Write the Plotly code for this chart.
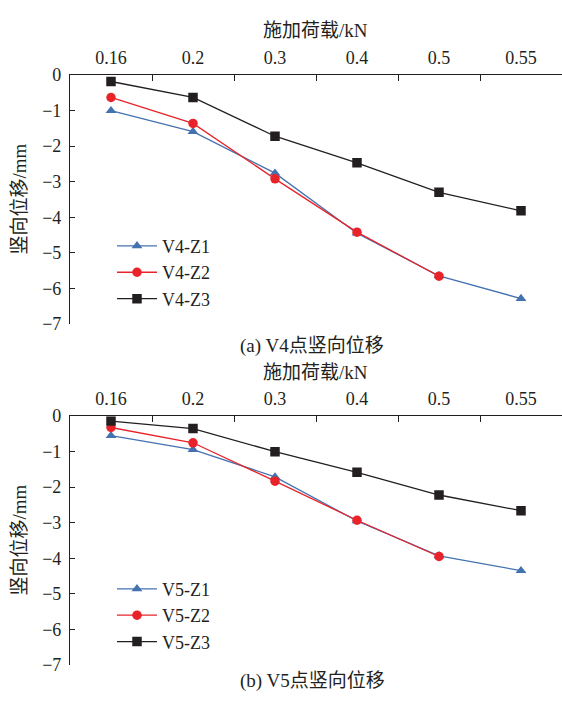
import plotly.graph_objects as go

# Load steps (kN), shown as evenly spaced categories on the top axis
loads = ["0.16", "0.2", "0.3", "0.4", "0.5", "0.55"]

# Vertical displacement (mm) at point V4
v4_z1 = [-1.00, -1.59, -2.76, -4.45, -5.65, -6.29]
v4_z2 = [-0.63, -1.36, -2.92, -4.42, -5.66]
v4_z3 = [-0.18, -0.63, -1.72, -2.47, -3.30, -3.82]

# Vertical displacement (mm) at point V5
v5_z1 = [-0.55, -0.94, -1.71, -2.95, -3.93, -4.35]
v5_z2 = [-0.32, -0.75, -1.83, -2.93, -3.95]
v5_z3 = [-0.14, -0.35, -1.00, -1.58, -2.22, -2.66]

y_ticks = [0, -1, -2, -3, -4, -5, -6, -7]

FONT = "Liberation Serif, Noto Sans CJK SC"
BLUE = "#4472B0"
RED = "#E8242A"
BLACK = "#231F20"

W, H = 562, 704
styles = [
    (BLUE, "triangle-up", 9.5),
    (RED, "circle", 9.5),
    (BLACK, "square", 9.5),
]

fig = go.Figure()

panels = [
    ("V4", [v4_z1, v4_z2, v4_z3], "x", "y", "legend"),
    ("V5", [v5_z1, v5_z2, v5_z3], "x2", "y2", "legend2"),
]
for point, series, xa, ya, lg in panels:
    for i, (vals, (col, sym, sz)) in enumerate(zip(series, styles)):
        fig.add_trace(go.Scatter(
            x=loads[:len(vals)], y=vals,
            mode="lines+markers",
            name=f"{point}-Z{i + 1}",
            line=dict(color=col, width=1.3),
            marker=dict(color=col, symbol=sym, size=sz),
            xaxis=xa, yaxis=ya, legend=lg,
        ))

x_dom = [70 / W, 1.0]
top_dom = [1 - 323 / H, 1 - 67 / H]
bot_dom = [1 - 674 / H, 1 - 418 / H]

xcommon = dict(
    type="category", categoryorder="array", categoryarray=loads,
    range=[-0.5, 5.5], side="top", domain=x_dom,
    showline=True, linecolor=BLACK, linewidth=1.2,
    ticks="inside", tickson="boundaries", ticklen=6, tickcolor=BLACK, tickwidth=1.2,
    showgrid=False, zeroline=False,
    tickfont=dict(family=FONT, size=18, color=BLACK),
    ticklabelstandoff=3,
)
ycommon = dict(
    range=[-7, 0], tickvals=y_ticks,
    showline=True, linecolor=BLACK, linewidth=1.2,
    ticks="inside", ticklen=5, tickcolor=BLACK, tickwidth=1.2,
    showgrid=False, zeroline=False,
    tickfont=dict(family=FONT, size=18, color=BLACK),
    ticklabelstandoff=4,
)

legend_common = dict(
    x=112 / W, xanchor="left", yanchor="top",
    bgcolor="rgba(0,0,0,0)", borderwidth=0,
    font=dict(family=FONT, size=18, color=BLACK),
    tracegroupgap=0, itemwidth=40,
)

fig.update_layout(
    width=W, height=H,
    margin=dict(l=0, r=0, t=0, b=0),
    paper_bgcolor="white", plot_bgcolor="white",
    font=dict(family=FONT, color=BLACK),
    xaxis=dict(xcommon, anchor="y"),
    yaxis=dict(ycommon, domain=top_dom, anchor="x"),
    xaxis2=dict(xcommon, anchor="y2"),
    yaxis2=dict(ycommon, domain=bot_dom, anchor="x2"),
    legend=dict(legend_common, y=1 - 224 / H),
    legend2=dict(legend_common, y=1 - 577 / H),
)

texts = [
    ("施加荷载/kN", 315, 21, 0),
    ("(a) V4点竖向位移", 312, 346, 0),
    ("施加荷载/kN", 315, 373, 0),
    ("(b) V5点竖向位移", 312, 691, 0),
    ("竖向位移/mm", 19, 195, -90),
    ("竖向位移/mm", 19, 546, -90),
]
for txt, px, py, ang in texts:
    fig.add_annotation(
        text=txt, x=px / W, y=1 - py / H, xref="paper", yref="paper",
        xanchor="center", yanchor="middle", showarrow=False, textangle=ang,
        font=dict(family=FONT, size=19, color=BLACK),
    )

fig.write_html("out.html")
